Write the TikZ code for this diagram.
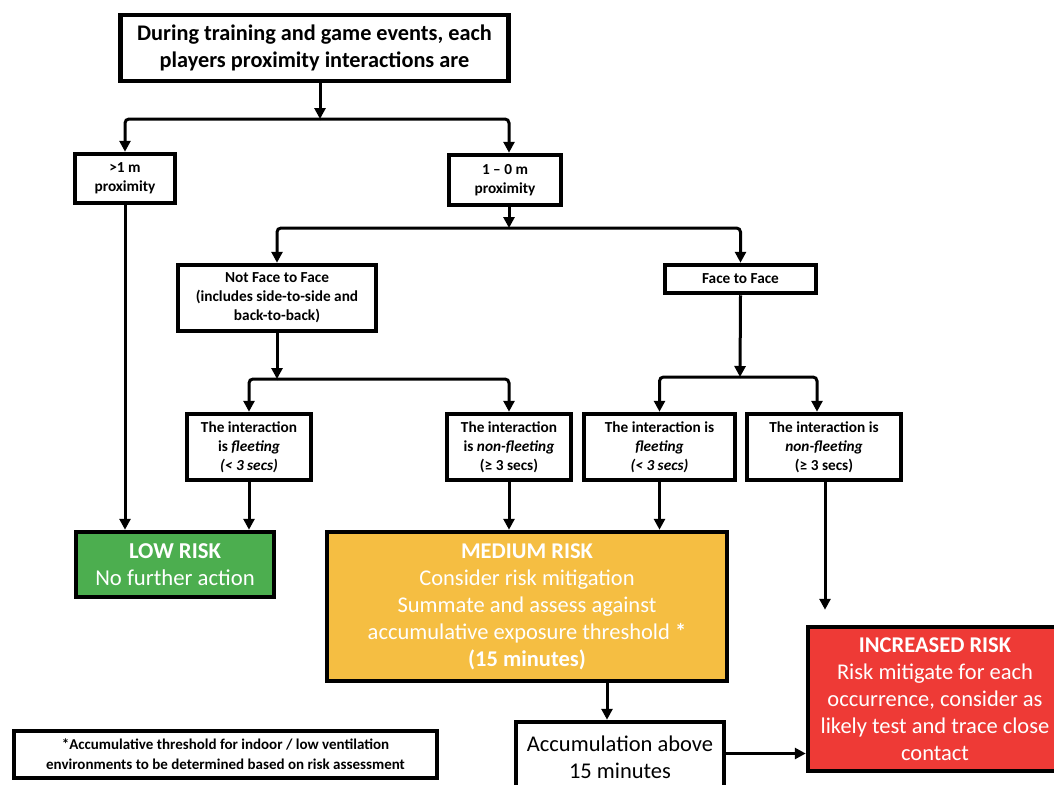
\documentclass[tikz,border=0pt]{standalone}
\usepackage{fontspec}
\setmainfont{Carlito}
\usetikzlibrary{arrows.meta}
\definecolor{lowgreen}{HTML}{4CAE4F}
\definecolor{medorange}{HTML}{F5BE42}
\definecolor{incred}{HTML}{EE3A36}
\begin{document}
\begin{tikzpicture}[x=1pt,y=-1pt,
  box/.style={draw, line width=4.5pt, fill=white, inner sep=2pt, align=center,
    font=\fontsize{15.3}{19}\selectfont\bfseries},
  bigtext/.style={font=\fontsize{22.5}{27}\selectfont},
  arr/.style={line width=3pt, rounded corners=4pt, -{Triangle[length=11pt,width=11pt]}}]
\useasboundingbox (0,0) rectangle (1054,784);

% nodes
\node[box, minimum width=388pt, minimum height=66pt, font=\fontsize{22.3}{27}\selectfont\bfseries]
  (top) at (314.5,48) {During training and game events, each\\players proximity interactions are};
\node[box, minimum width=100pt, minimum height=49pt] (gt1) at (125,178.5) {>1 m\\proximity};
\node[box, minimum width=112pt, minimum height=50pt] (z1) at (505,180) {1 – 0 m\\proximity};
\node[box, minimum width=198pt, minimum height=66pt] (nf) at (277,298)
  {Not Face to Face\\(includes side-to-side and\\back-to-back)};
\node[box, minimum width=151pt, minimum height=28pt] (f2f) at (740.5,279) {Face to Face};
\node[box, minimum width=124pt, minimum height=66pt] (fl) at (249,447)
  {The interaction\\is \textit{fleeting}\\\textit{(< 3 secs)}};
\node[box, minimum width=124pt, minimum height=66pt] (nfl) at (509,447)
  {The interaction\\is \textit{non-fleeting}\\(≥ 3 secs)};
\node[box, minimum width=151pt, minimum height=66pt] (fl2) at (659.5,447)
  {The interaction is\\\textit{fleeting}\\\textit{(< 3 secs)}};
\node[box, minimum width=154pt, minimum height=66pt] (nfl2) at (824,447)
  {The interaction is\\\textit{non-fleeting}\\(≥ 3 secs)};
\node[box, fill=lowgreen, text=white, minimum width=198pt, minimum height=65pt,
  font=\fontsize{22.7}{27}\selectfont] (low) at (175,564.5)
  {\textbf{LOW RISK}\\No further action};
\node[box, fill=medorange, text=white, minimum width=400pt, minimum height=149pt, bigtext]
  (med) at (527,606.5)
  {\textbf{MEDIUM RISK}\\Consider risk mitigation\\Summate and assess against\\accumulative exposure threshold \textbf{*}\\\textbf{(15 minutes)}};
\node[box, minimum width=423pt, minimum height=47pt, font=\fontsize{15}{20}\selectfont\bfseries]
  (foot) at (225.5,754.5)
  {*Accumulative threshold for indoor / low ventilation\\environments to be determined based on risk assessment};
\node[box, minimum width=208pt, minimum height=71pt, bigtext] (acc) at (620,757.5)
  {Accumulation above\\15 minutes};
\node[box, fill=incred, text=white, minimum width=254pt, minimum height=144pt, bigtext]
  (red) at (935,699)
  {\textbf{INCREASED RISK}\\Risk mitigate for each\\occurrence, consider as\\likely test and trace close\\contact};

% junctions
\coordinate (j1) at (320,119);
\coordinate (j2) at (509,228);
\coordinate (j3) at (277,379);
\coordinate (j4) at (740,377);

% connectors
\draw[arr] ([xshift=5.5pt]top.south) -- (j1);
\draw[arr] (j1) -| (gt1.north);
\draw[arr] (j1) -| ([xshift=4pt]z1.north);
\draw[arr] ([xshift=4pt]z1.south) -- (j2);
\draw[arr] (j2) -| (nf.north);
\draw[arr] (j2) -| (f2f.north);
\draw[arr] (nf.south) -- (j3);
\draw[arr] (j3) -| (fl.north);
\draw[arr] (j3) -| (nfl.north);
\draw[arr] (f2f.south) -- (j4);
\draw[arr] (j4) -| (fl2.north);
\draw[arr] (j4) -| ([xshift=-7pt]nfl2.north);
\draw[arr] (gt1.south) -- (gt1.south |- low.north);
\draw[arr] (fl.south) -- (fl.south |- low.north);
\draw[arr] (nfl.south) -- (nfl.south |- med.north);
\draw[arr] (fl2.south) -- (fl2.south |- med.north);
\draw[arr, shorten >=15pt] ([xshift=1pt]nfl2.south) -- ([xshift=1pt]nfl2.south |- red.north);
\draw[arr] ([xshift=80pt]med.south) -- ([xshift=80pt]med.south |- acc.north);
\draw[arr] ([yshift=4pt]acc.east) -- ([yshift=4pt]acc.east -| red.west);
\end{tikzpicture}
\end{document}
